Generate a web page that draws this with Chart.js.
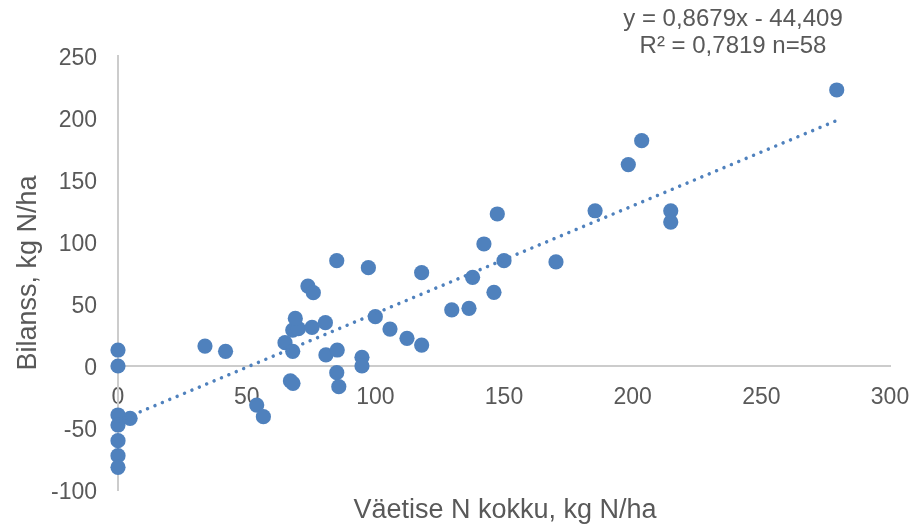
<!DOCTYPE html>
<html>
<head>
<meta charset="utf-8">
<script src="https://cdn.jsdelivr.net/npm/chart.js@4"></script>
<style>
  html, body { margin: 0; padding: 0; background: #ffffff; }
  #wrap { width: 913px; height: 527px; }
</style>
</head>
<body>
<div id="wrap"><canvas id="c" width="913" height="527"></canvas></div>
<script>
// ---- data ----
const fertN = [0, 0, 0, 0, 0, 0, 0, 4.7, 33.8, 41.8, 53.9, 56.5, 64.9, 67.9, 70.1, 68.9, 67.9, 67, 68,
  73.8, 75.9, 75.4, 80.6, 80.8, 85, 85.2, 85, 85.8, 94.8, 94.8, 97.3, 100, 105.7, 112.3, 118, 118,
  129.7, 136.4, 137.8, 142.2, 146.1, 147.4, 150, 170.2, 185.4, 198.3, 203.5, 214.8, 214.8, 279.3];
const balance = [12.9, 0, -39.5, -47.6, -60.2, -72.3, -81.7, -42.2, 16.1, 11.8, -31.5, -40.9, 18.8, 29, 30.1, 38.4, 11.8, -12, -14,
  64.5, 59.1, 31.2, 34.9, 8.9, 84.9, 12.9, -5.4, -16.7, 7, 0, 79.3, 39.8, 29.8, 22.3, 75.3, 16.9,
  45.2, 46.5, 71.5, 98.4, 59.4, 122.6, 84.9, 83.9, 125.2, 162.4, 181.7, 125.2, 116.1, 222.6];
const trendSlope = 0.8679;
const trendIntercept = -44.409;
const trendXStart = 0;
const trendXEnd = 279.3;
const equationLines = ['y = 0,8679x - 44,409', 'R² = 0,7819 n=58'];
const xTitle = 'Väetise N kokku, kg N/ha';
const yTitle = 'Bilanss, kg N/ha';
const xTicks = { min: 0, max: 300, step: 50 };
const yTicks = { min: -100, max: 250, step: 50 };

const scatterPoints = fertN.map((x, i) => ({ x: x, y: balance[i] }));
const trendPoints = [trendXStart, trendXEnd].map(x => ({ x: x, y: trendSlope * x + trendIntercept }));

const BLUE = '#4F81BD';
const TEXT = '#595959';
const AXIS = '#CCCCCC';
const FONT = '"Liberation Sans", Arial, sans-serif';

const textPlugin = {
  id: 'texts',
  afterDraw(chart) {
    const ctx = chart.ctx;
    ctx.save();
    ctx.fillStyle = TEXT;
    ctx.textAlign = 'center';
    ctx.textBaseline = 'middle';
    ctx.font = '24px ' + FONT;
    ctx.fillText(equationLines[0], 733, 19);
    ctx.fillText(equationLines[1], 733, 46);
    ctx.font = '27px ' + FONT;
    ctx.fillText(xTitle, 505, 511);
    ctx.translate(29, 273);
    ctx.rotate(-Math.PI / 2);
    ctx.fillText(yTitle, 0, 0);
    ctx.restore();
  }
};

const bgPlugin = {
  id: 'bg',
  beforeDraw(chart) {
    const ctx = chart.ctx;
    ctx.save();
    ctx.fillStyle = '#ffffff';
    ctx.fillRect(0, 0, chart.width, chart.height);
    ctx.restore();
  }
};

function noPad(s) {
  s.paddingLeft = 0; s.paddingRight = 0; s.paddingTop = 0; s.paddingBottom = 0;
}

new Chart(document.getElementById('c'), {
  type: 'scatter',
  data: {
    datasets: [
      {
        type: 'line',
        label: 'trend',
        data: trendPoints,
        borderColor: BLUE,
        borderWidth: 3.5,
        borderDash: [0.01, 8],
        borderCapStyle: 'round',
        pointRadius: 0,
        fill: false,
        order: 0,
        clip: false
      },
      {
        label: 'Bilanss',
        data: scatterPoints,
        backgroundColor: BLUE,
        borderWidth: 0,
        pointRadius: 7.6,
        pointHoverRadius: 7.6,
        order: 1,
        clip: false
      }
    ]
  },
  options: {
    responsive: false,
    animation: false,
    devicePixelRatio: 1,
    layout: { padding: { left: 0, top: 56, right: 23, bottom: 37 } },
    plugins: { legend: { display: false }, tooltip: { enabled: false } },
    scales: {
      x: {
        type: 'linear',
        position: { y: 0 },
        min: xTicks.min, max: xTicks.max,
        grid: { display: false, drawTicks: false },
        border: { display: true, color: AXIS, width: 2 },
        ticks: { stepSize: xTicks.step, padding: 18, color: TEXT, font: { family: FONT, size: 23 } },
        afterFit(s) { s.height = 0; noPad(s); }
      },
      y: {
        type: 'linear',
        position: 'left',
        min: yTicks.min, max: yTicks.max,
        grid: { display: false, drawTicks: false },
        border: { display: true, color: AXIS, width: 2 },
        ticks: { stepSize: yTicks.step, padding: 21, labelOffset: 3, color: TEXT, font: { family: FONT, size: 23 } },
        afterFit(s) { s.width = 118; noPad(s); }
      }
    }
  },
  plugins: [bgPlugin, textPlugin]
});
</script>
</body>
</html>
